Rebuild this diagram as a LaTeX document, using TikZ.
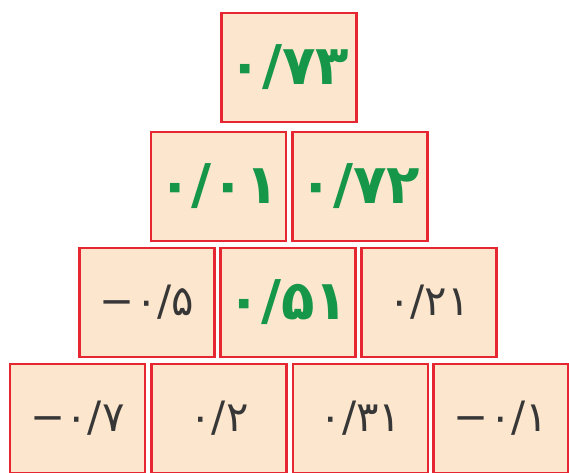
\documentclass[tikz,border=0pt]{standalone}
\usepackage{fontspec}
\newfontfamily\farsi{DejaVu Sans}
\definecolor{cellfill}{RGB}{252,231,206}
\definecolor{cellred}{RGB}{230,38,48}
\definecolor{numgreen}{RGB}{22,150,72}
\definecolor{numgray}{RGB}{55,55,55}
\tikzset{
  cell/.style={draw=cellred,fill=cellfill,line width=2.4bp,minimum width=135bp,minimum height=109bp,inner sep=0pt},
  sol/.style={text=numgreen,font=\farsi\bfseries\fontsize{55}{58}\selectfont},
  given/.style={text=numgray,font=\farsi\fontsize{42}{46}\selectfont}
}
\begin{document}
\begin{tikzpicture}[x=1bp,y=-1bp]
  \useasboundingbox (0,0) rectangle (569,473);
  % top
  \node[cell,sol] (c11) at (289,67.5) {\raisebox{-6bp}{۰/۷۳}};
  % second row
  \node[cell,sol] (c21) at (218.5,186.5) {۰/۰۱};
  \node[cell,sol] (c22) at (360,186.5) {۰/۷۲};
  % third row
  \node[cell,given] (c31) at (147,302.5) {−۰/۵};
  \node[cell,sol]   (c32) at (288,302.5) {۰/۵۱};
  \node[cell,given] (c33) at (429,302.5) {۰/۲۱};
  % bottom row
  \node[cell,given] (c41) at (77.5,418.5) {−۰/۷};
  \node[cell,given] (c42) at (219,418.5) {۰/۲};
  \node[cell,given] (c43) at (360.5,418.5) {۰/۳۱};
  \node[cell,given] (c44) at (501,418.5) {−۰/۱};
\end{tikzpicture}
\end{document}
